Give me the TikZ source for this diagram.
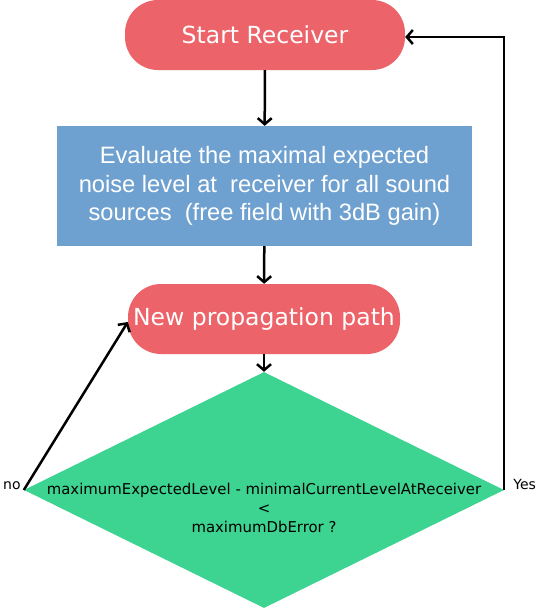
\documentclass[tikz,border=0pt]{standalone}
\usepackage{fontspec}
\setmainfont{DejaVu Sans}
\newfontfamily\helv{Liberation Sans}
\usetikzlibrary{shapes.geometric,arrows.meta}
\definecolor{termred}{RGB}{236,100,106}
\definecolor{procblue}{RGB}{111,161,208}
\definecolor{condgreen}{RGB}{61,211,145}
\tikzset{
  terminal/.style={fill=termred, rounded corners=33pt, minimum height=70pt,
    text=white, font=\fontsize{23.5}{28}\selectfont, inner sep=0pt},
  process/.style={fill=procblue, minimum width=415pt, minimum height=120pt,
    text=white, align=center, font=\helv\fontsize{23.7}{28.5}\selectfont, inner sep=0pt},
  decision/.style={diamond, fill=condgreen, minimum width=480pt, minimum height=236pt,
    inner sep=0pt},
  flow/.style={line width=2.5pt, -{Straight Barb[length=6pt,width=14pt,line width=2.5pt]}}
}
\begin{document}
\begin{tikzpicture}[x=1pt,y=-1pt]
      \useasboundingbox (0,0) rectangle (536,608);
      \node[terminal, minimum width=280pt] (start) at (265,35) {Start Receiver};
      \node[process] (eval) at (264.5,186) {Evaluate the maximal expected\\
        noise level at\ \ receiver for all sound\\
        sources\ \ (free field with 3dB gain)};
      \node[terminal, minimum width=272pt] (newpath) at (264,319) {New propagation path};
      \node[decision] (cond) at (264,490) {};
      \node[align=center, font=\fontsize{14.9}{19}\selectfont, inner sep=0pt] (condtext)
        at (264,508) {maximumExpectedLevel - minimalCurrentLevelAtReceiver\\ <\\ maximumDbError ?};
      \node[font=\fontsize{14}{16}\selectfont, anchor=east, inner sep=3pt] (nolabel)
        at ([yshift=4pt]cond.west) {no};
      \node[font=\fontsize{14}{16}\selectfont, anchor=west, inner sep=0pt] (yeslabel)
        at ([shift={(9pt,6pt)}]cond.east) {Yes};
      \begin{scope}[flow]
        \draw (start) to (eval);
        \draw (eval) to (newpath);
        \draw (newpath) to (cond);
        \draw (cond.west) to ([yshift=-3pt]newpath.west);
        \draw (cond.east) |- ([yshift=-2pt]start.east);
      \end{scope}
    \end{tikzpicture}
\end{document}
